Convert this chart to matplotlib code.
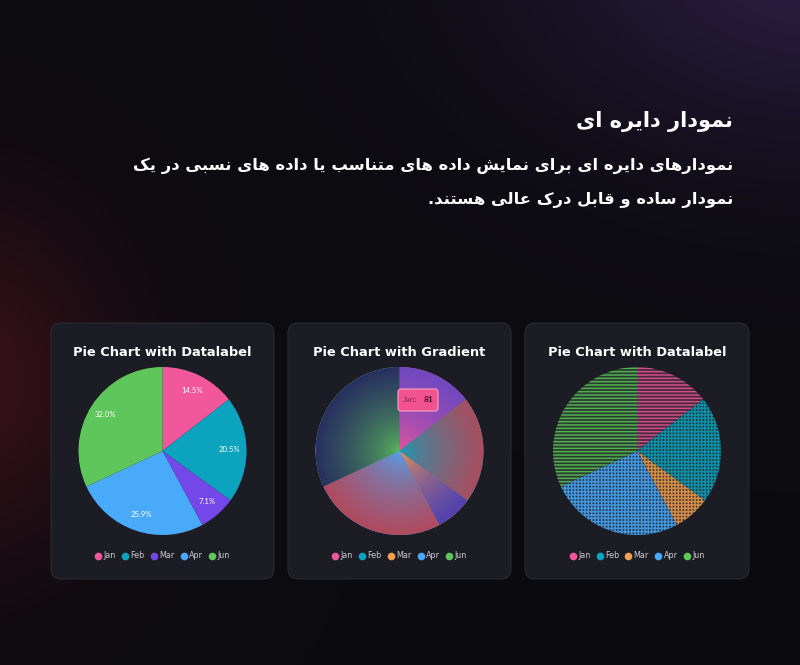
import numpy as np
import matplotlib
matplotlib.use('Agg')
import matplotlib.pyplot as plt
from matplotlib.patches import FancyBboxPatch
from matplotlib.lines import Line2D
from matplotlib.legend import Legend
from matplotlib.colors import to_rgb

# ---------------- data ----------------
months = ['Jan', 'Feb', 'Mar', 'Apr', 'Jun']
values = [81, 115, 40, 145, 179]
colors_datalabel = ['#f1579a', '#0ba3bd', '#7447e8', '#49a9fb', '#5fc65b']
colors_main = ['#f1579a', '#0ba3bd', '#f2a050', '#49a9fb', '#5fc65b']
gradient_outer = ['#7048c0', '#a84e60', '#5040b0', '#b04a5e', '#283060']
hatch_styles = ['-----', '+++++', '+++++', '+++++', '-----']
chart_titles = ['Pie Chart with Datalabel', 'Pie Chart with Gradient', 'Pie Chart with Datalabel']
heading = 'نمودار دایره ای'
body_lines = ['نمودارهای دایره ای برای نمایش داده های متناسب یا داده های نسبی در یک',
              'نمودار ساده و قابل درک عالی هستند.']

# ---------------- simple Persian shaping ----------------
FORMS = {  # isolated, final, initial, medial
    '\u0627': ('\uFE8D', '\uFE8E', None, None),
    '\u0628': ('\uFE8F', '\uFE90', '\uFE91', '\uFE92'),
    '\u062A': ('\uFE95', '\uFE96', '\uFE97', '\uFE98'),
    '\u062F': ('\uFEA9', '\uFEAA', None, None),
    '\u0631': ('\uFEAD', '\uFEAE', None, None),
    '\u0633': ('\uFEB1', '\uFEB2', '\uFEB3', '\uFEB4'),
    '\u0634': ('\uFEB5', '\uFEB6', '\uFEB7', '\uFEB8'),
    '\u0639': ('\uFEC9', '\uFECA', '\uFECB', '\uFECC'),
    '\u0642': ('\uFED5', '\uFED6', '\uFED7', '\uFED8'),
    '\u0644': ('\uFEDD', '\uFEDE', '\uFEDF', '\uFEE0'),
    '\u0645': ('\uFEE1', '\uFEE2', '\uFEE3', '\uFEE4'),
    '\u0646': ('\uFEE5', '\uFEE6', '\uFEE7', '\uFEE8'),
    '\u0647': ('\uFEE9', '\uFEEA', '\uFEEB', '\uFEEC'),
    '\u0648': ('\uFEED', '\uFEEE', None, None),
    '\u067E': ('\uFB56', '\uFB57', '\uFB58', '\uFB59'),
    '\u06A9': ('\uFB8E', '\uFB8F', '\uFB90', '\uFB91'),
    '\u06CC': ('\uFBFC', '\uFBFD', '\uFBFE', '\uFBFF'),
}


def shape_rtl(s):
    out = []
    for i, ch in enumerate(s):
        if ch not in FORMS:
            out.append(ch)
            continue
        prev = s[i - 1] if i > 0 else None
        nxt = s[i + 1] if i + 1 < len(s) else None
        pj = prev in FORMS and FORMS[prev][2] is not None
        nj = FORMS[ch][2] is not None and nxt in FORMS
        iso, fin, ini, med = FORMS[ch]
        if pj and nj:
            out.append(med)
        elif pj:
            out.append(fin)
        elif nj:
            out.append(ini)
        else:
            out.append(iso)
    return ''.join(out)[::-1]


# ---------------- figure ----------------
W, H = 800, 665
plt.rcParams['hatch.linewidth'] = 1.1
fig = plt.figure(figsize=(W / 100, H / 100), dpi=100)
ax = fig.add_axes([0, 0, 1, 1])
ax.set_xlim(0, W)
ax.set_ylim(0, H)
renderer = fig.canvas.get_renderer()


def Y(y):
    return H - y


def fit_width(t, target):
    bb = t.get_window_extent(renderer)
    t.set_fontsize(t.get_fontsize() * target / bb.width)
    return t.get_fontsize()


# background
yy, xx = np.mgrid[0:H, 0:W].astype(float)
base = np.array([0.047, 0.044, 0.062])
red = np.exp(-(((xx + 40) / 150) ** 2 + ((yy - 380) / 170) ** 2))
purple = np.exp(-(((xx - 830) / 300) ** 2 + ((yy + 60) / 200) ** 2))
bg = base + red[..., None] * np.array([0.17, 0.02, 0.035]) + purple[..., None] * np.array([0.12, 0.07, 0.20])
ax.imshow(np.clip(bg, 0, 1), extent=(0, W, 0, H), origin='upper', zorder=0)

# heading text
tfont = ['DejaVu Sans']
th = ax.text(733, Y(121), shape_rtl(heading), ha='right', va='center', color='white',
             fontsize=15, fontweight='bold', family=tfont, zorder=5)
fit_width(th, 158)
t1 = ax.text(733, Y(166), shape_rtl(body_lines[0]), ha='right', va='center', color='white',
             fontsize=13, fontweight='bold', family=tfont, zorder=5)
fs_body = fit_width(t1, 600)
ax.text(733, Y(200), shape_rtl(body_lines[1]), ha='right', va='center', color='white',
        fontsize=fs_body, fontweight='bold', family=tfont, zorder=5)

# cards
cards = [(51, 323, 223, 256), (288, 323, 223, 256), (525, 323, 224, 256)]
card_col = '#1c1d24'
for (x0, y0, w, h) in cards:
    ax.add_patch(FancyBboxPatch((x0, Y(y0 + h)), w, h, boxstyle='round,pad=0,rounding_size=10',
                                facecolor=card_col, edgecolor='#292a32', linewidth=0.8, zorder=1))

R = 84
pie_cy = Y(451)
efont = ['DejaVu Sans']
lfont = ['Lato', 'DejaVu Sans']


def blend(c, d, a):
    c = np.array(to_rgb(c)); d = np.array(to_rgb(d))
    return tuple(c * a + d * (1 - a))


title_fs = None
for i, (x0, y0, w, h) in enumerate(cards):
    cx = x0 + w / 2
    tt = ax.text(cx, Y(352), chart_titles[i], ha='center', va='center', color='white',
                 fontsize=10 if title_fs is None else title_fs, fontweight='bold', family=efont, zorder=5)
    if title_fs is None:
        title_fs = fit_width(tt, 180)
    if i == 0:
        wedges, texts, autos = ax.pie(values, colors=colors_datalabel, startangle=90, counterclock=False,
                                      center=(cx, pie_cy), radius=R, autopct='%1.1f%%', pctdistance=0.8,
                                      textprops=dict(color='white', fontsize=5.6, family=lfont),
                                      wedgeprops=dict(linewidth=0), frame=True)
        for w_ in wedges:
            w_.set_zorder(3)
        for t in autos:
            t.set_zorder(4)
        leg_cols = colors_datalabel
    elif i == 1:
        wedges, texts = ax.pie(values, colors=colors_main, startangle=90, counterclock=False,
                               center=(cx, pie_cy), radius=R, wedgeprops=dict(linewidth=0), frame=True)
        n = 300
        g = np.linspace(-1, 1, n)
        GX, GY = np.meshgrid(g, g)
        rr = np.clip(np.sqrt(GX ** 2 + GY ** 2), 0, 1)
        t = rr ** 0.6
        for w_, c0, c1 in zip(wedges, colors_main, gradient_outer):
            w_.set_zorder(2)
            a = np.array(to_rgb(c0)); b = np.array(to_rgb(c1))
            img = a[None, None, :] * (1 - t[..., None]) + b[None, None, :] * t[..., None]
            im = ax.imshow(img, extent=(cx - R, cx + R, pie_cy - R, pie_cy + R), origin='lower',
                           zorder=3, interpolation='bilinear')
            im.set_clip_path(w_)
        # tooltip
        ax.add_patch(FancyBboxPatch((398, Y(411)), 40, 22, boxstyle='round,pad=0,rounding_size=3',
                                    facecolor='#f2528f', edgecolor='#f7a3c3', linewidth=0.8, zorder=6))
        ax.text(403, Y(400), months[0] + ':', ha='left', va='center', fontsize=6, color='#8c2a55',
                family=lfont, zorder=7)
        ax.text(424, Y(400), str(values[0]), ha='left', va='center', fontsize=6, color='#4a1028',
                fontweight='bold', family=lfont, zorder=7)
        leg_cols = colors_main
    else:
        wedges, texts = ax.pie(values, colors=[blend(c, card_col, 0.2) for c in colors_main],
                               startangle=90, counterclock=False, hatch=hatch_styles,
                               center=(cx, pie_cy), radius=R, wedgeprops=dict(linewidth=0), frame=True)
        for w_, c in zip(wedges, colors_main):
            w_.set_edgecolor(blend(c, card_col, 0.85))
            w_.set_linewidth(0)
            w_.set_zorder(3)
        leg_cols = colors_main

    handles = [Line2D([], [], marker='o', linestyle='none', markersize=5.5,
                      markerfacecolor=c, markeredgewidth=0) for c in leg_cols]
    leg = Legend(ax, handles, months, ncol=5, loc='center', bbox_to_anchor=(cx, Y(556)),
                 bbox_transform=ax.transData, frameon=False, labelcolor='#c9c9d2',
                 handletextpad=0.25, columnspacing=0.75, handlelength=0.8, borderpad=0,
                 prop=dict(family=efont, size=5.8))
    leg.set_zorder(5)
    ax.add_artist(leg)

ax.set_xlim(0, W)
ax.set_ylim(0, H)
ax.set_aspect('auto')
ax.axis('off')
fig.savefig('out.png', dpi=100, facecolor='#0c0b10')
